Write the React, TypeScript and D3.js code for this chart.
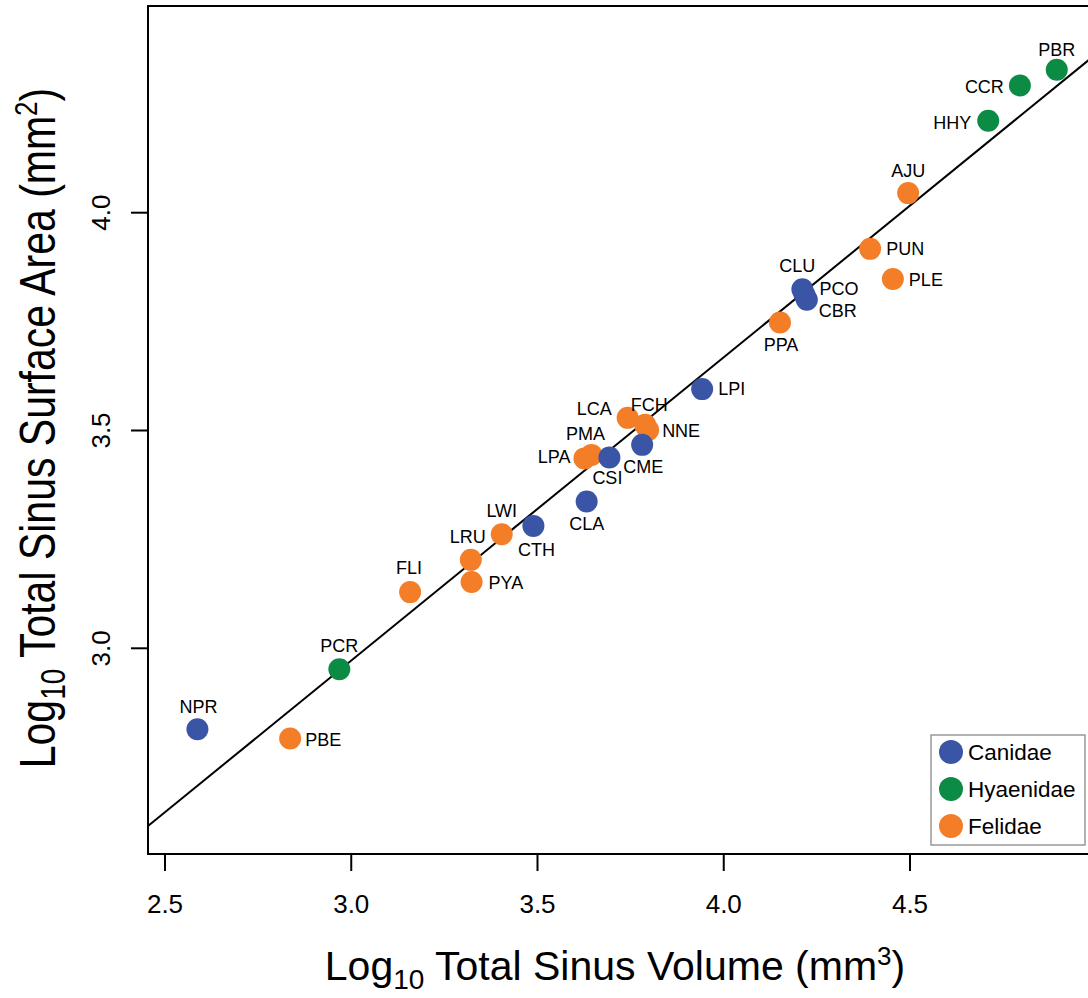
import React from "react";
import * as d3 from "d3";

// Species codes, family membership and log10 sinus measurements
const species = [
  "NPR", "PBE", "PCR", "FLI", "LRU", "PYA", "LWI", "CTH", "CLA", "LPA",
  "PMA", "CSI", "CME", "LCA", "FCH", "NNE", "LPI", "PPA", "CLU", "PCO",
  "CBR", "PUN", "PLE", "AJU", "HHY", "CCR", "PBR",
];
const family = [
  "Canidae", "Felidae", "Hyaenidae", "Felidae", "Felidae", "Felidae", "Felidae", "Canidae", "Canidae", "Felidae",
  "Felidae", "Canidae", "Canidae", "Felidae", "Felidae", "Felidae", "Canidae", "Felidae", "Canidae", "Canidae",
  "Canidae", "Felidae", "Felidae", "Felidae", "Hyaenidae", "Hyaenidae", "Hyaenidae",
];
const logVolume = [
  2.587, 2.836, 2.968, 3.158, 3.321, 3.323, 3.404, 3.489, 3.632, 3.626,
  3.645, 3.693, 3.781, 3.742, 3.789, 3.797, 3.942, 4.151, 4.211, 4.217,
  4.223, 4.393, 4.454, 4.495, 4.710, 4.795, 4.894,
];
const logArea = [
  2.814, 2.793, 2.952, 3.129, 3.203, 3.152, 3.262, 3.281, 3.337, 3.436,
  3.444, 3.438, 3.467, 3.529, 3.513, 3.501, 3.595, 3.748, 3.824, 3.811,
  3.800, 3.917, 3.848, 4.045, 4.211, 4.292, 4.328,
];

const familyNames = ["Canidae", "Hyaenidae", "Felidae"];
const familyColors = ["#3a55a5", "#0c8b45", "#f37e27"];
const drawOrder = ["Felidae", "Canidae", "Hyaenidae"];

const xTicks = [2.5, 3.0, 3.5, 4.0, 4.5];
const yTicks = [3.0, 3.5, 4.0];

// Least-squares fit: log area = a + b * log volume
const fitIntercept = 0.883;
const fitSlope = 0.6963;

// Label placement relative to each point: [dx, dy, text-anchor]
const labelPlacement: Record<string, [number, number, string]> = {
  NPR: [1, -16, "middle"],
  PBE: [15, 7.5, "start"],
  PCR: [0, -17, "middle"],
  FLI: [-1, -18, "middle"],
  LRU: [-3, -17, "middle"],
  PYA: [17, 7, "start"],
  LWI: [0, -17, "middle"],
  CTH: [3, 30, "middle"],
  CLA: [0, 28, "middle"],
  LPA: [-14, 5, "end"],
  PMA: [-6, -15, "middle"],
  CSI: [-2, 26, "middle"],
  CME: [1, 28, "middle"],
  LCA: [-16, -3, "end"],
  FCH: [4, -14, "middle"],
  NNE: [14, 7, "start"],
  LPI: [16, 6, "start"],
  PPA: [1, 29, "middle"],
  CLU: [-5, -17, "middle"],
  PCO: [15, 0, "start"],
  CBR: [12, 17, "start"],
  PUN: [16, 6, "start"],
  PLE: [16, 7.5, "start"],
  AJU: [0, -16, "middle"],
  HHY: [-17, 8, "end"],
  CCR: [-16, 7.5, "end"],
  PBR: [0, -14, "middle"],
};

const FONT = "'Liberation Sans', Arial, Helvetica, sans-serif";

export default function App() {
  const W = 1088;
  const H = 998;
  const plot = { left: 148, top: 6, right: 1096, bottom: 854 };

  const x = d3.scaleLinear().domain([2.5, 4.5]).range([165, 910]);
  const y = d3.scaleLinear().domain([3.0, 4.0]).range([648.3, 212.7]);
  const color = d3.scaleOrdinal<string, string>().domain(familyNames).range(familyColors);
  const fmt = d3.format(".1f");

  const points = species.map((s, i) => ({
    name: s,
    fam: family[i],
    vx: logVolume[i],
    vy: logArea[i],
  }));
  const ordered = drawOrder.flatMap((f) => points.filter((p) => p.fam === f));

  const xFitStart = x.invert(plot.left);
  const xFitEnd = x.invert(plot.right);
  const fitLine = d3
    .line<number>()
    .x((v) => x(v))
    .y((v) => y(fitIntercept + fitSlope * v))([xFitStart, xFitEnd]);

  const r = 11;
  const legend = { x: 931, y: 735, w: 154, h: 110 };

  return (
    <svg
      width={W}
      height={H}
      style={{ position: "absolute", left: 0, top: 0, background: "#fff" }}
      fontFamily={FONT}
    >
      <defs>
        <clipPath id="plotClip">
          <rect x={plot.left} y={plot.top} width={plot.right - plot.left} height={plot.bottom - plot.top} />
        </clipPath>
      </defs>

      {/* regression line */}
      <path d={fitLine ?? ""} stroke="#000" strokeWidth={2} fill="none" clipPath="url(#plotClip)" />

      {/* points */}
      {ordered.map((p) => (
        <circle key={p.name} cx={x(p.vx)} cy={y(p.vy)} r={r} fill={color(p.fam)} />
      ))}

      {/* point labels */}
      {points.map((p) => {
        const [dx, dy, anchor] = labelPlacement[p.name];
        return (
          <text
            key={"l" + p.name}
            x={x(p.vx) + dx}
            y={y(p.vy) + dy}
            fontSize={18}
            textAnchor={anchor as any}
            fill="#000"
          >
            {p.name}
          </text>
        );
      })}

      {/* plot frame */}
      <rect
        x={plot.left}
        y={plot.top}
        width={plot.right - plot.left}
        height={plot.bottom - plot.top}
        fill="none"
        stroke="#000"
        strokeWidth={2}
      />

      {/* x axis ticks */}
      {xTicks.map((t) => (
        <g key={"xt" + t}>
          <line x1={x(t)} x2={x(t)} y1={plot.bottom} y2={plot.bottom + 17} stroke="#000" strokeWidth={2} />
          <text x={x(t)} y={913} fontSize={26} textAnchor="middle">
            {fmt(t)}
          </text>
        </g>
      ))}

      {/* y axis ticks */}
      {yTicks.map((t) => (
        <g key={"yt" + t}>
          <line x1={plot.left - 17} x2={plot.left} y1={y(t)} y2={y(t)} stroke="#000" strokeWidth={2} />
          <text transform={`translate(110,${y(t)}) rotate(-90)`} fontSize={26} textAnchor="middle">
            {fmt(t)}
          </text>
        </g>
      ))}

      {/* axis titles */}
      <text x={615} y={980} fontSize={41} textAnchor="middle">
        Log
        <tspan fontSize={28} dy={9}>10</tspan>
        <tspan dy={-9}> Total Sinus Volume (mm</tspan>
        <tspan fontSize={26} dy={-15}>3</tspan>
        <tspan dy={15}>)</tspan>
      </text>
      <text transform="translate(55,428) rotate(-90) scale(1,1.22)" fontSize={41} textAnchor="middle">
        Log
        <tspan fontSize={28} dy={8}>10</tspan>
        <tspan dy={-8}> Total Sinus Surface Area (mm</tspan>
        <tspan fontSize={26} dy={-15}>2</tspan>
        <tspan dy={15}>)</tspan>
      </text>

      {/* legend */}
      <rect x={legend.x} y={legend.y} width={legend.w} height={legend.h} fill="#fff" stroke="#999" strokeWidth={1.5} />
      {familyNames.map((f, i) => (
        <g key={"lg" + f}>
          <circle cx={951} cy={752 + i * 37} r={12} fill={color(f)} />
          <text x={968} y={752 + i * 37 + 8} fontSize={22.5}>
            {f}
          </text>
        </g>
      ))}
    </svg>
  );
}
